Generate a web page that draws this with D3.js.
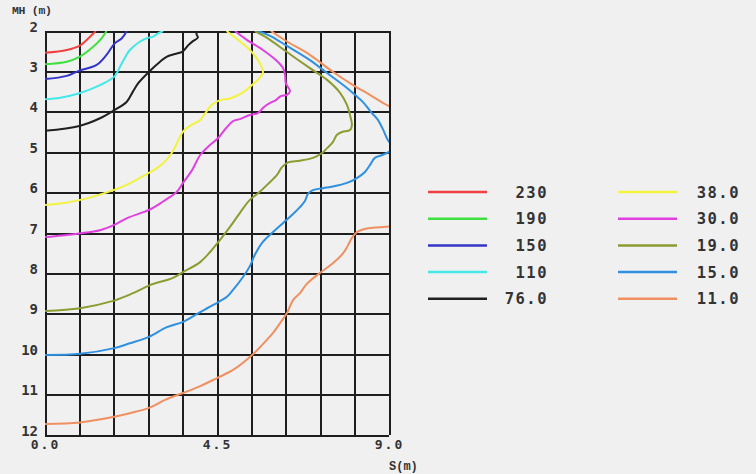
<!DOCTYPE html>
<html>
<head>
<meta charset="utf-8">
<script src="https://cdn.jsdelivr.net/npm/d3@7"></script>
<style>
  html, body { margin: 0; padding: 0; background: #f0f0f0; }
  svg { display: block; }
</style>
</head>
<body>
<svg id="chart" width="756" height="474"></svg>
<script>
// ---- data (S in m, MH in m) ----
const levels = ["230", "190", "150", "110", "76.0", "38.0", "30.0", "19.0", "15.0", "11.0"];
const colors = ["#f04040", "#40e040", "#3434c8", "#44e8e8", "#202020", "#f2f240", "#e040e0", "#8c9c30", "#3090e0", "#f09060"];

const xGridValues = [0, 0.9, 1.8, 2.7, 3.6, 4.5, 5.4, 6.3, 7.2, 8.1, 9.0];
const xTickLabels = [0, 4.5, 9.0];
const yTicks = [2, 3, 4, 5, 6, 7, 8, 9, 10, 11, 12];

const c230 = [[0,2.54],[0.57,2.47],[0.9,2.37],[1.09,2.22],[1.33,2.0]];
const c190 = [[0,2.82],[0.57,2.76],[0.9,2.64],[1.26,2.39],[1.48,2.18],[1.61,2.0]];
const c150 = [[0,3.19],[0.57,3.11],[0.9,2.98],[1.35,2.84],[1.61,2.59],[1.83,2.3],[2.01,2.18],[2.14,2.0]];
const c110 = [[0,3.69],[0.4,3.65],[0.9,3.54],[1.44,3.34],[1.81,3.13],[2.01,2.8],[2.22,2.47],[2.49,2.26],[2.66,2.18],[2.83,2.14],[2.96,2.06],[3.09,2.0]];
const c76 = [[0,4.47],[0.9,4.35],[1.44,4.16],[1.81,3.96],[2.14,3.75],[2.3,3.5],[2.44,3.29],[2.72,3.01],[3.01,2.76],[3.18,2.64],[3.4,2.57],[3.6,2.51],[3.75,2.35],[3.87,2.25],[4.0,2.16],[3.96,2.07],[4.01,2.0]];
const c38 = [[4.75,2.0],[5.05,2.22],[5.36,2.47],[5.57,2.72],[5.68,2.92],[5.70,3.04],[5.57,3.21],[5.41,3.34],[5.15,3.54],[4.84,3.67],[4.58,3.71],[4.36,3.83],[4.19,4.04],[4.06,4.20],[3.79,4.35],[3.62,4.48],[3.49,4.70],[3.36,4.95],[3.18,5.19],[2.92,5.40],[2.70,5.52],[2.22,5.77],[1.79,5.94],[1.26,6.10],[0.92,6.18],[0.48,6.26],[0,6.31]];
const c30 = [[4.97,2.0],[5.28,2.22],[5.70,2.47],[6.04,2.72],[6.23,2.92],[6.28,3.09],[6.30,3.29],[6.41,3.49],[6.33,3.58],[6.17,3.61],[6.04,3.71],[5.89,3.78],[5.73,3.88],[5.57,4.03],[5.36,4.08],[5.10,4.18],[4.92,4.23],[4.74,4.40],[4.53,4.65],[4.26,4.87],[4.06,5.07],[3.85,5.44],[3.61,5.76],[3.45,5.98],[3.09,6.22],[2.72,6.43],[2.15,6.63],[1.81,6.80],[1.44,6.93],[0.89,7.01],[0.44,7.06],[0,7.10]];
const c19 = [[5.49,2.0],[5.81,2.17],[6.33,2.52],[6.93,2.92],[7.38,3.21],[7.72,3.53],[7.90,3.83],[7.98,4.08],[8.03,4.33],[7.98,4.45],[7.77,4.50],[7.64,4.57],[7.53,4.75],[7.38,4.90],[7.25,5.02],[7.01,5.14],[6.67,5.21],[6.36,5.25],[6.20,5.37],[6.07,5.56],[5.83,5.79],[5.62,5.98],[5.36,6.18],[5.10,6.50],[4.84,6.85],[4.58,7.17],[4.32,7.47],[4.06,7.72],[3.61,7.97],[3.35,8.11],[2.75,8.29],[2.30,8.49],[1.78,8.68],[0.92,8.86],[0,8.93]];
const c15 = [[5.57,2.0],[5.89,2.12],[6.33,2.37],[6.93,2.72],[7.38,3.04],[7.90,3.41],[8.11,3.58],[8.32,3.76],[8.55,4.03],[8.71,4.20],[8.84,4.43],[8.97,4.70],[9.10,4.87],[9.0,4.99],[8.82,5.07],[8.63,5.14],[8.50,5.32],[8.37,5.49],[8.16,5.64],[7.90,5.76],[7.53,5.85],[7.27,5.89],[7.01,5.94],[6.88,6.03],[6.80,6.21],[6.67,6.36],[6.49,6.53],[6.23,6.75],[5.96,6.98],[5.70,7.22],[5.49,7.54],[5.36,7.82],[5.18,8.09],[4.92,8.41],[4.76,8.58],[4.40,8.78],[3.98,9.00],[3.61,9.20],[3.19,9.33],[2.72,9.57],[2.22,9.73],[1.81,9.85],[0.92,9.99],[0,10.02]];
const c11Top = [[5.91,2.0],[6.33,2.26],[6.93,2.59],[7.53,3.01],[8.06,3.34],[8.50,3.58],[8.84,3.78],[9.0,3.86],[9.16,3.93]];
const c11Bottom = [[9.16,6.84],[9.0,6.84],[8.76,6.86],[8.42,6.89],[8.16,6.98],[8.03,7.12],[7.93,7.30],[7.80,7.50],[7.53,7.75],[7.19,7.99],[6.85,8.26],[6.67,8.49],[6.49,8.66],[6.33,8.98],[6.15,9.23],[5.96,9.48],[5.70,9.75],[5.42,10.02],[4.92,10.39],[4.50,10.59],[4.06,10.79],[3.61,10.96],[3.14,11.13],[2.72,11.33],[2.22,11.46],[1.81,11.55],[0.92,11.69],[0,11.73]];

const contourSegments = [[c230],[c190],[c150],[c110],[c76],[c38],[c30],[c19],[c15],[c11Top, c11Bottom]];

// ---- layout ----
const svg = d3.select("#chart");
const W = 756, H = 474;
const plot = {left: 45, top: 31, right: 389, bottom: 435};
const mono = "'DejaVu Sans Mono', 'Liberation Mono', monospace";

svg.append("rect").attr("width", W).attr("height", H).attr("fill", "#f0f0f0");

const x = d3.scaleLinear().domain([0, 9]).range([plot.left, plot.right]);
const y = d3.scaleLinear().domain([2, 12]).range([plot.top, plot.bottom]);

const pw = plot.right - plot.left, ph = plot.bottom - plot.top;

svg.append("defs").append("clipPath").attr("id", "clip")
  .append("rect").attr("x", plot.left).attr("y", plot.top).attr("width", pw).attr("height", ph);

// grid via axes
const gridX = svg.append("g").attr("transform", `translate(0,${plot.bottom})`)
  .call(d3.axisBottom(x).tickValues(xGridValues).tickSize(-ph).tickFormat(""));
const gridY = svg.append("g").attr("transform", `translate(${plot.left},0)`)
  .call(d3.axisLeft(y).tickValues(yTicks).tickSize(-pw).tickFormat(""));
[gridX, gridY].forEach(g => {
  g.select(".domain").remove();
  g.selectAll("line").attr("stroke", "#1e1e1e").attr("stroke-width", 2).attr("shape-rendering", "crispEdges");
});

// contour lines
const line = d3.line().x(d => x(d[0])).y(d => y(d[1])).curve(d3.curveCatmullRom.alpha(0.5));
const gc = svg.append("g").attr("clip-path", "url(#clip)");
contourSegments.forEach((segs, i) => {
  segs.forEach(seg => {
    gc.append("path").attr("d", line(seg)).attr("fill", "none")
      .attr("stroke", colors[i]).attr("stroke-width", 2).attr("stroke-linejoin", "round");
  });
});

// axis labels
const ax = svg.append("g").attr("transform", `translate(0,${plot.bottom})`)
  .call(d3.axisBottom(x).tickValues(xTickLabels).tickSize(0).tickPadding(5).tickFormat(d3.format(".1f")));
ax.select(".domain").remove();
ax.selectAll("text").attr("font-family", mono).attr("font-weight", "bold").attr("font-size", 13)
  .attr("letter-spacing", "2px").attr("fill", "#333");

const ay = svg.append("g").attr("transform", `translate(${plot.left},0)`)
  .call(d3.axisLeft(y).tickValues(yTicks).tickSize(0).tickPadding(7).tickFormat(d3.format("d")));
ay.select(".domain").remove();
ay.selectAll("text").attr("font-family", mono).attr("font-weight", "bold").attr("font-size", 14)
  .attr("dy", "0em").attr("fill", "#333");

svg.append("text").attr("x", 12).attr("y", 14).text("MH (m)")
  .attr("font-family", "'Liberation Mono', monospace").attr("font-weight", "bold").attr("font-size", 11.5)
  .attr("letter-spacing", "-0.3px").attr("fill", "#333");
svg.append("text").attr("x", 389).attr("y", 470).text("S(m)")
  .attr("font-family", "'Liberation Mono', monospace").attr("font-weight", "bold").attr("font-size", 12).attr("fill", "#333");

// legend
const leg = svg.append("g");
levels.forEach((lv, i) => {
  const col = Math.floor(i / 5), row = i % 5;
  const ly = 192 + row * 26.7;
  const lx0 = col === 0 ? 428 : 618;
  const tx = col === 0 ? 548 : 740;
  leg.append("line").attr("x1", lx0).attr("x2", lx0 + 59).attr("y1", ly).attr("y2", ly)
    .attr("stroke", colors[i]).attr("stroke-width", 2.5);
  leg.append("text").attr("x", tx).attr("y", ly).attr("dy", "0.36em").attr("text-anchor", "end")
    .attr("font-family", mono).attr("font-weight", "bold").attr("font-size", 15.5)
    .attr("letter-spacing", "1.5px").attr("fill", "#333").text(lv);
});
</script>
</body>
</html>
